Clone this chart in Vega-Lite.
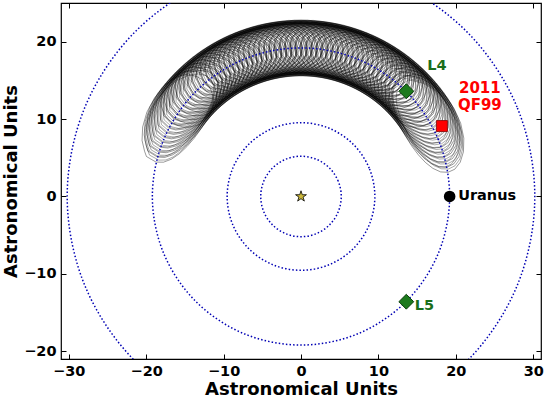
{
  "$schema": "https://vega.github.io/schema/vega-lite/v6.json",
  "width": 480,
  "height": 356,
  "autosize": "none",
  "padding": {"left": 61, "top": 3, "right": 3, "bottom": 40},
  "background": "white",
  "config": {
    "view": {"stroke": "black", "strokeWidth": 1.2},
    "font": "DejaVu Sans",
    "axis": {
      "grid": false,
      "domain": false,
      "tickColor": "black",
      "tickSize": -5,
      "tickWidth": 1,
      "labelPadding": 10,
      "labelFont": "DejaVu Sans",
      "labelFontSize": 14.5,
      "labelFontWeight": "bold",
      "labelColor": "black",
      "titleFont": "DejaVu Sans",
      "titleFontSize": 18,
      "titleFontWeight": "bold",
      "titleColor": "black",
      "titlePadding": 3
    }
  },
  "datasets": {
    "circles": [
      {"orbit": "J", "k": 0, "x": 5.2, "y": 0}, {"orbit": "J", "k": 1, "x": 4.804, "y": 1.99}, {"orbit": "J", "k": 2, "x": 3.677, "y": 3.677}, {"orbit": "J", "k": 3, "x": 1.99, "y": 4.804},
      {"orbit": "J", "k": 4, "x": 0, "y": 5.2}, {"orbit": "J", "k": 5, "x": -1.99, "y": 4.804}, {"orbit": "J", "k": 6, "x": -3.677, "y": 3.677}, {"orbit": "J", "k": 7, "x": -4.804, "y": 1.99},
      {"orbit": "J", "k": 8, "x": -5.2, "y": 0}, {"orbit": "J", "k": 9, "x": -4.804, "y": -1.99}, {"orbit": "J", "k": 10, "x": -3.677, "y": -3.677}, {"orbit": "J", "k": 11, "x": -1.99, "y": -4.804},
      {"orbit": "J", "k": 12, "x": 0, "y": -5.2}, {"orbit": "J", "k": 13, "x": 1.99, "y": -4.804}, {"orbit": "J", "k": 14, "x": 3.677, "y": -3.677}, {"orbit": "J", "k": 15, "x": 4.804, "y": -1.99},
      {"orbit": "S", "k": 0, "x": 9.54, "y": 0}, {"orbit": "S", "k": 1, "x": 8.814, "y": 3.651}, {"orbit": "S", "k": 2, "x": 6.746, "y": 6.746}, {"orbit": "S", "k": 3, "x": 3.651, "y": 8.814},
      {"orbit": "S", "k": 4, "x": 0, "y": 9.54}, {"orbit": "S", "k": 5, "x": -3.651, "y": 8.814}, {"orbit": "S", "k": 6, "x": -6.746, "y": 6.746}, {"orbit": "S", "k": 7, "x": -8.814, "y": 3.651},
      {"orbit": "S", "k": 8, "x": -9.54, "y": 0}, {"orbit": "S", "k": 9, "x": -8.814, "y": -3.651}, {"orbit": "S", "k": 10, "x": -6.746, "y": -6.746}, {"orbit": "S", "k": 11, "x": -3.651, "y": -8.814},
      {"orbit": "S", "k": 12, "x": 0, "y": -9.54}, {"orbit": "S", "k": 13, "x": 3.651, "y": -8.814}, {"orbit": "S", "k": 14, "x": 6.746, "y": -6.746}, {"orbit": "S", "k": 15, "x": 8.814, "y": -3.651},
      {"orbit": "U", "k": 0, "x": 19.2, "y": 0}, {"orbit": "U", "k": 1, "x": 17.739, "y": 7.348}, {"orbit": "U", "k": 2, "x": 13.576, "y": 13.576}, {"orbit": "U", "k": 3, "x": 7.348, "y": 17.739},
      {"orbit": "U", "k": 4, "x": 0, "y": 19.2}, {"orbit": "U", "k": 5, "x": -7.348, "y": 17.739}, {"orbit": "U", "k": 6, "x": -13.576, "y": 13.576}, {"orbit": "U", "k": 7, "x": -17.739, "y": 7.348},
      {"orbit": "U", "k": 8, "x": -19.2, "y": 0}, {"orbit": "U", "k": 9, "x": -17.739, "y": -7.348}, {"orbit": "U", "k": 10, "x": -13.576, "y": -13.576}, {"orbit": "U", "k": 11, "x": -7.348, "y": -17.739},
      {"orbit": "U", "k": 12, "x": 0, "y": -19.2}, {"orbit": "U", "k": 13, "x": 7.348, "y": -17.739}, {"orbit": "U", "k": 14, "x": 13.576, "y": -13.576}, {"orbit": "U", "k": 15, "x": 17.739, "y": -7.348},
      {"orbit": "N", "k": 0, "x": 30.2, "y": 0}, {"orbit": "N", "k": 1, "x": 27.901, "y": 11.558}, {"orbit": "N", "k": 2, "x": 21.354, "y": 21.354}, {"orbit": "N", "k": 3, "x": 11.558, "y": 27.901},
      {"orbit": "N", "k": 4, "x": 0, "y": 30.2}, {"orbit": "N", "k": 5, "x": -11.558, "y": 27.901}, {"orbit": "N", "k": 6, "x": -21.354, "y": 21.354}, {"orbit": "N", "k": 7, "x": -27.901, "y": 11.558},
      {"orbit": "N", "k": 8, "x": -30.2, "y": 0}, {"orbit": "N", "k": 9, "x": -27.901, "y": -11.558}, {"orbit": "N", "k": 10, "x": -21.354, "y": -21.354}, {"orbit": "N", "k": 11, "x": -11.558, "y": -27.901},
      {"orbit": "N", "k": 12, "x": 0, "y": -30.2}, {"orbit": "N", "k": 13, "x": 11.558, "y": -27.901}, {"orbit": "N", "k": 14, "x": 21.354, "y": -21.354}, {"orbit": "N", "k": 15, "x": 27.901, "y": -11.558}
    ],
    "tadpole": [
      {"phi": 30, "x": 16.63, "y": 9.6}, {"phi": 32, "x": 16.28, "y": 10.17}, {"phi": 34, "x": 15.92, "y": 10.74}, {"phi": 36, "x": 15.53, "y": 11.29},
      {"phi": 38, "x": 15.13, "y": 11.82}, {"phi": 40, "x": 14.71, "y": 12.34}, {"phi": 42, "x": 14.27, "y": 12.85}, {"phi": 44, "x": 13.81, "y": 13.34},
      {"phi": 46, "x": 13.34, "y": 13.81}, {"phi": 48, "x": 12.85, "y": 14.27}, {"phi": 50, "x": 12.34, "y": 14.71}, {"phi": 52, "x": 11.82, "y": 15.13},
      {"phi": 54, "x": 11.29, "y": 15.53}, {"phi": 56, "x": 10.74, "y": 15.92}, {"phi": 58, "x": 10.17, "y": 16.28}, {"phi": 60, "x": 9.6, "y": 16.63},
      {"phi": 62, "x": 9.01, "y": 16.95}, {"phi": 64, "x": 8.42, "y": 17.26}, {"phi": 66, "x": 7.81, "y": 17.54}, {"phi": 68, "x": 7.19, "y": 17.8},
      {"phi": 70, "x": 6.57, "y": 18.04}, {"phi": 72, "x": 5.93, "y": 18.26}, {"phi": 74, "x": 5.29, "y": 18.46}, {"phi": 76, "x": 4.64, "y": 18.63},
      {"phi": 78, "x": 3.99, "y": 18.78}, {"phi": 80, "x": 3.33, "y": 18.91}, {"phi": 82, "x": 2.67, "y": 19.01}, {"phi": 84, "x": 2.01, "y": 19.09},
      {"phi": 86, "x": 1.34, "y": 19.15}, {"phi": 88, "x": 0.67, "y": 19.19}, {"phi": 90, "x": 0, "y": 19.2}, {"phi": 92, "x": -0.67, "y": 19.19},
      {"phi": 94, "x": -1.34, "y": 19.15}, {"phi": 96, "x": -2.01, "y": 19.09}, {"phi": 98, "x": -2.67, "y": 19.01}, {"phi": 100, "x": -3.33, "y": 18.91},
      {"phi": 102, "x": -3.99, "y": 18.78}, {"phi": 104, "x": -4.64, "y": 18.63}, {"phi": 106, "x": -5.29, "y": 18.46}, {"phi": 108, "x": -5.93, "y": 18.26},
      {"phi": 110, "x": -6.57, "y": 18.04}, {"phi": 112, "x": -7.19, "y": 17.8}, {"phi": 114, "x": -7.81, "y": 17.54}, {"phi": 116, "x": -8.42, "y": 17.26},
      {"phi": 118, "x": -9.01, "y": 16.95}, {"phi": 120, "x": -9.6, "y": 16.63}, {"phi": 122, "x": -10.17, "y": 16.28}, {"phi": 124, "x": -10.74, "y": 15.92},
      {"phi": 126, "x": -11.29, "y": 15.53}, {"phi": 128, "x": -11.82, "y": 15.13}, {"phi": 130, "x": -12.34, "y": 14.71}, {"phi": 132, "x": -12.85, "y": 14.27},
      {"phi": 134, "x": -13.34, "y": 13.81}, {"phi": 136, "x": -13.81, "y": 13.34}, {"phi": 138, "x": -14.27, "y": 12.85}, {"phi": 140, "x": -14.71, "y": 12.34},
      {"phi": 142, "x": -15.13, "y": 11.82}, {"phi": 144, "x": -15.53, "y": 11.29}, {"phi": 146, "x": -15.92, "y": 10.74}
    ],
    "sun": [{"x": 0, "y": 0}],
    "uranus": [{"x": 19.2, "y": 0}],
    "lagrange": [{"name": "L4", "x": 13.6, "y": 13.6}, {"name": "L5", "x": 13.6, "y": -13.6}],
    "asteroid": [{"x": 18.2, "y": 9.1}],
    "leftLabels": [
      {"label": "L4", "x": 16.3, "y": 16.8},
      {"label": "L5", "x": 14.7, "y": -14.1},
      {"label": "Uranus", "x": 20.3, "y": 0}
    ],
    "redLabels": [
      {"label": "2011", "x": 23.1, "y": 14.0},
      {"label": "QF99", "x": 23.1, "y": 11.8}
    ]
  },
  "encoding": {
    "x": {"field": "x", "type": "quantitative", "scale": {"domain": [-31, 31], "nice": false, "zero": false}, "axis": null},
    "y": {"field": "y", "type": "quantitative", "scale": {"domain": [-21, 25], "nice": false, "zero": false}, "axis": null}
  },
  "layer": [
    {
      "data": {"name": "tadpole"},
      "mark": {"type": "point", "shape": "M6.58,1.16L6.67,0.23L6.25,-0.8L5.31,-1.81L3.87,-2.69L2.04,-3.29L0,-3.5L-2.04,-3.29L-3.87,-2.69L-5.31,-1.81L-6.25,-0.8L-6.67,-0.23L-6.58,1.16L-6.07,1.94L-5.21,2.55L-4.1,2.99L-2.82,3.28L-1.43,3.45L0,3.5L1.43,3.45L2.82,3.28L4.1,2.99L5.21,2.55L6.07,1.94Z", "filled": false, "size": 255, "color": "black", "opacity": 1, "strokeWidth": 0.6, "strokeOpacity": 0.6, "clip": true},
      "encoding": {
        "angle": {"field": "phi", "type": "quantitative", "scale": {"domain": [0, 180], "range": [90, -90]}}
      }
    },
    {
      "data": {"name": "tadpole"},
      "mark": {"type": "point", "shape": "M6.58,1.16L6.67,0.23L6.25,-0.8L5.31,-1.81L3.87,-2.69L2.04,-3.29L0,-3.5L-2.04,-3.29L-3.87,-2.69L-5.31,-1.81L-6.25,-0.8L-6.67,-0.23L-6.58,1.16L-6.07,1.94L-5.21,2.55L-4.1,2.99L-2.82,3.28L-1.43,3.45L0,3.5L1.43,3.45L2.82,3.28L4.1,2.99L5.21,2.55L6.07,1.94Z", "filled": false, "size": 228, "color": "black", "opacity": 1, "strokeWidth": 0.6, "strokeOpacity": 0.5, "clip": true},
      "encoding": {
        "angle": {"field": "phi", "type": "quantitative", "scale": {"domain": [0, 180], "range": [88, -92]}}
      }
    },
    {
      "data": {"name": "tadpole"},
      "mark": {"type": "point", "shape": "M6.58,1.16L6.67,0.23L6.25,-0.8L5.31,-1.81L3.87,-2.69L2.04,-3.29L0,-3.5L-2.04,-3.29L-3.87,-2.69L-5.31,-1.81L-6.25,-0.8L-6.67,-0.23L-6.58,1.16L-6.07,1.94L-5.21,2.55L-4.1,2.99L-2.82,3.28L-1.43,3.45L0,3.5L1.43,3.45L2.82,3.28L4.1,2.99L5.21,2.55L6.07,1.94Z", "filled": false, "size": 200, "color": "black", "opacity": 1, "strokeWidth": 0.6, "strokeOpacity": 0.5, "clip": true},
      "encoding": {
        "angle": {"field": "phi", "type": "quantitative", "scale": {"domain": [0, 180], "range": [91, -89]}}
      }
    },
    {
      "data": {"name": "tadpole"},
      "transform": [{"filter": "datum.phi >= 40 && datum.phi <= 140"}],
      "mark": {"type": "point", "shape": "circle", "filled": false, "size": 2750, "color": "black", "opacity": 1, "strokeWidth": 0.7, "strokeOpacity": 0.55, "clip": true}
    },
    {
      "data": {"name": "circles"},
      "mark": {"type": "line", "interpolate": "cardinal-closed", "color": "#0000b4", "strokeWidth": 1.5, "strokeDash": [1.5, 2.1], "clip": true},
      "encoding": {
        "x": {"field": "x", "type": "quantitative", "scale": {"domain": [-31, 31], "nice": false, "zero": false},
              "axis": {"orient": "bottom", "values": [-30, -20, -10, 0, 10, 20, 30], "title": "Astronomical Units"}},
        "y": {"field": "y", "type": "quantitative", "scale": {"domain": [-21, 25], "nice": false, "zero": false},
              "axis": {"orient": "left", "values": [-20, -10, 0, 10, 20], "title": "Astronomical Units"}},
        "detail": {"field": "orbit", "type": "nominal"},
        "order": {"field": "k", "type": "quantitative"}
      }
    },
    {
      "data": {"name": "sun"},
      "mark": {"type": "point", "shape": "M0,-1L0.2245,-0.309L0.951,-0.309L0.3633,0.118L0.588,0.809L0,0.382L-0.588,0.809L-0.3633,0.118L-0.951,-0.309L-0.2245,-0.309Z", "filled": true, "size": 130, "fill": "#ccb83a", "stroke": "black", "strokeWidth": 0.8, "opacity": 1}
    },
    {
      "data": {"name": "uranus"},
      "mark": {"type": "point", "shape": "circle", "filled": true, "size": 135, "color": "black", "opacity": 1},
      "encoding": {
        "x": {"field": "x", "type": "quantitative", "scale": {"domain": [-31, 31], "nice": false, "zero": false},
              "axis": {"orient": "top", "values": [-30, -20, -10, 0, 10, 20, 30], "labels": false, "title": null}},
        "y": {"field": "y", "type": "quantitative", "scale": {"domain": [-21, 25], "nice": false, "zero": false},
              "axis": {"orient": "right", "values": [-20, -10, 0, 10, 20], "labels": false, "title": null}}
      }
    },
    {
      "data": {"name": "lagrange"},
      "mark": {"type": "point", "shape": "diamond", "filled": true, "size": 220, "fill": "#1d7a1d", "stroke": "#0b3d0b", "strokeWidth": 1, "opacity": 1}
    },
    {
      "data": {"name": "asteroid"},
      "mark": {"type": "point", "shape": "square", "filled": true, "size": 121, "fill": "#ff0000", "stroke": "#800000", "strokeWidth": 0.8, "opacity": 1}
    },
    {
      "data": {"name": "leftLabels"},
      "mark": {"type": "text", "align": "left", "baseline": "middle", "font": "DejaVu Sans", "fontSize": 14.5, "fontWeight": "bold"},
      "encoding": {
        "text": {"field": "label", "type": "nominal"},
        "color": {"field": "label", "type": "nominal", "scale": {"domain": ["L4", "L5", "Uranus"], "range": ["#1a6e1a", "#1a6e1a", "black"]}, "legend": null}
      }
    },
    {
      "data": {"name": "redLabels"},
      "mark": {"type": "text", "align": "center", "baseline": "middle", "font": "DejaVu Sans", "fontSize": 15, "fontWeight": "bold", "color": "#ff0000"},
      "encoding": {
        "text": {"field": "label", "type": "nominal"}
      }
    }
  ],
  "resolve": {"axis": {"x": "independent", "y": "independent"}, "scale": {"color": "independent", "angle": "independent"}}
}
